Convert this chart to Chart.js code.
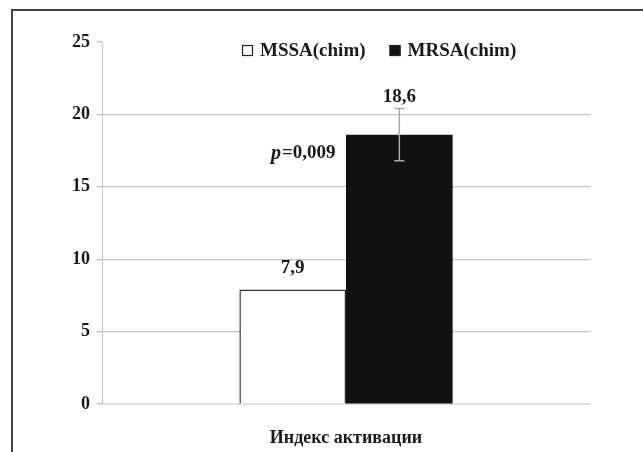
<!DOCTYPE html>
<html>
<head>
<meta charset="utf-8">
<script src="https://cdn.jsdelivr.net/npm/chart.js@4"></script>
<style>
    body { margin: 0; background: #fff; }
    #wrap { position: relative; width: 643px; height: 452px; overflow: hidden; }
    #frame { position: absolute; left: 11px; top: 9px; width: 700px; height: 500px;
             border-top: 2px solid #444; border-left: 2px solid #444; }
    canvas { position: absolute; left: 0; top: 0; }
</style>
</head>
<body>
<div id="wrap">
    <div id="frame"></div>
    <canvas id="chart" width="643" height="452"></canvas>
</div>
<script>
// Activation index, chimeric MSSA vs MRSA
const categories = ['Индекс активации'];
const seriesNames = ['MSSA(chim)', 'MRSA(chim)'];
const mssaValues = [7.9];
const mrsaValues = [18.6];
const mrsaErrors = [1.8];
const mssaErrors = [0];
const yTicks = [0, 5, 10, 15, 20, 25];
const pValueText = '=0,009';

const serif = '"Liberation Serif", "Times New Roman", serif';
const fontSize = 19;

function fmt(v) {
    return String(v).replace('.', ',');
}

// error bars, value labels, the p-value note and the legend
const extras = {
    id: 'extras',
    afterDatasetsDraw(chart) {
        const ctx = chart.ctx;
        const y = chart.scales.y;
        ctx.save();
        chart.data.datasets.forEach((ds, di) => {
            const meta = chart.getDatasetMeta(di);
            meta.data.forEach((bar, i) => {
                const v = ds.data[i];
                const err = ds.errors[i];
                let top = bar.y;
                if (err > 0) {
                    const hi = y.getPixelForValue(v + err);
                    const lo = y.getPixelForValue(v - err);
                    ctx.strokeStyle = '#aaa';
                    ctx.lineWidth = 1.5;
                    ctx.beginPath();
                    ctx.moveTo(bar.x, hi); ctx.lineTo(bar.x, lo);
                    ctx.moveTo(bar.x - 5, hi); ctx.lineTo(bar.x + 5, hi);
                    ctx.moveTo(bar.x - 5, lo); ctx.lineTo(bar.x + 5, lo);
                    ctx.stroke();
                    top = hi - 7;
                } else {
                    top = bar.y - 17;
                }
                ctx.fillStyle = '#1a1a1a';
                ctx.font = 'bold ' + fontSize + 'px ' + serif;
                ctx.textAlign = 'center';
                ctx.textBaseline = 'alphabetic';
                ctx.fillText(fmt(v), bar.x, top);
            });
        });

        // p-value beside the pair of bars
        const first = chart.getDatasetMeta(0).data[0];
        const py = y.getPixelForValue(17.3);
        ctx.textBaseline = 'middle';
        ctx.textAlign = 'left';
        ctx.font = 'italic bold ' + (fontSize + 1) + 'px ' + serif;
        const pw = ctx.measureText('p').width;
        ctx.font = 'bold ' + fontSize + 'px ' + serif;
        const rw = ctx.measureText(pValueText).width;
        const px = first.x + 10 - (pw + rw) / 2;
        ctx.font = 'italic bold ' + (fontSize + 1) + 'px ' + serif;
        ctx.fillText('p', px, py);
        ctx.font = 'bold ' + fontSize + 'px ' + serif;
        ctx.fillText(pValueText, px + pw + 1, py);

        // legend
        let lx = chart.chartArea.left + 140;
        const ly = 50;
        ctx.font = 'bold ' + fontSize + 'px ' + serif;
        chart.data.datasets.forEach(ds => {
            ctx.fillStyle = ds.backgroundColor;
            ctx.fillRect(lx, ly - 5, 11, 11);
            ctx.strokeStyle = '#222';
            ctx.lineWidth = 1.2;
            ctx.strokeRect(lx + 0.5, ly - 4.5, 10, 10);
            ctx.fillStyle = '#1a1a1a';
            ctx.fillText(ds.label, lx + 18, ly + 1);
            lx += 18 + ctx.measureText(ds.label).width + 24;
        });
        ctx.restore();
    }
};

new Chart(document.getElementById('chart'), {
    type: 'bar',
    data: {
        labels: categories,
        datasets: [
            {
                label: seriesNames[0],
                data: mssaValues,
                errors: mssaErrors,
                backgroundColor: '#ffffff',
                borderColor: '#333',
                borderWidth: 1.5
            },
            {
                label: seriesNames[1],
                data: mrsaValues,
                errors: mrsaErrors,
                backgroundColor: '#111111',
                borderColor: '#111111',
                borderWidth: 0
            }
        ]
    },
    options: {
        responsive: false,
        animation: false,
        events: [],
        layout: { padding: { top: 42, right: 53, left: 0, bottom: 0 } },
        datasets: { bar: { categoryPercentage: 0.437, barPercentage: 1 } },
        plugins: {
            legend: { display: false },
            tooltip: { enabled: false }
        },
        scales: {
            x: {
                grid: { display: false, drawTicks: false },
                border: { color: '#ddd' },
                ticks: {
                    padding: 24,
                    color: '#1a1a1a',
                    font: { family: serif, size: 18, weight: 'bold' }
                },
                afterFit(scale) { scale.height = 48; }
            },
            y: {
                min: 0,
                max: 25,
                afterBuildTicks(scale) { scale.ticks = yTicks.map(v => ({ value: v })); },
                grid: {
                    color: c => c.tick.value === 25 ? 'rgba(0,0,0,0)' : (c.tick.value === 0 ? '#e2e2e2' : '#c4c4c4'),
                    tickColor: '#bbb',
                    tickLength: 5,
                    lineWidth: 1.2
                },
                border: { color: '#c4c4c4' },
                ticks: {
                    padding: 7,
                    color: '#1a1a1a',
                    font: { family: serif, size: 18, weight: 'bold' }
                },
                afterFit(scale) { scale.width = 102; }
            }
        }
    },
    plugins: [extras]
});
</script>
</body>
</html>
